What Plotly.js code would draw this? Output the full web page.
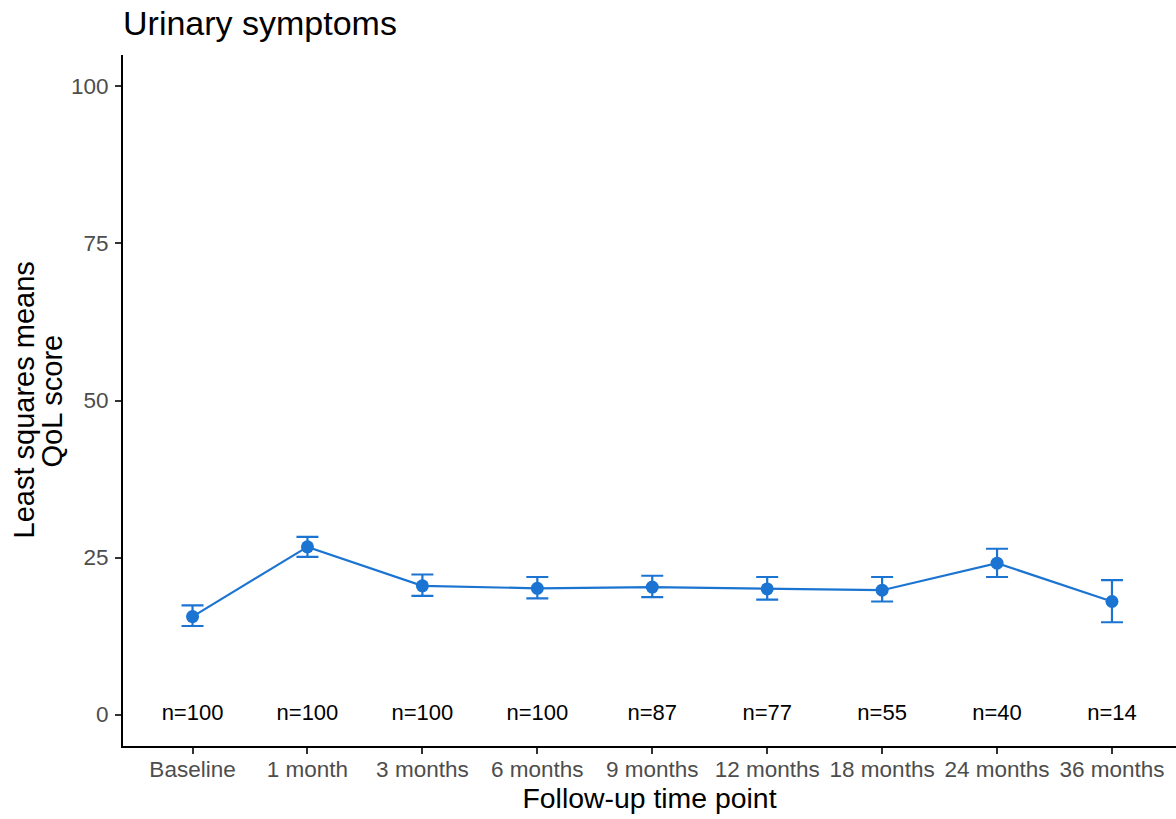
<!DOCTYPE html>
<html>
<head>
<meta charset="utf-8">
<script src="https://cdn.plot.ly/plotly-3.0.1.min.js"></script>
<style>html,body{margin:0;padding:0;background:#fff;}#chart{width:1176px;height:819px;}</style>
</head>
<body>
<div id="chart"></div>
<script>
const timepoints = ["Baseline","1 month","3 months","6 months","9 months","12 months","18 months","24 months","36 months"];
const lsMeans = [15.6, 26.7, 20.5, 20.1, 20.3, 20.0, 19.8, 24.1, 18.0];
const ciUpper = [17.4, 28.3, 22.3, 21.9, 22.1, 21.9, 21.9, 26.4, 21.4];
const ciLower = [14.1, 25.1, 18.9, 18.5, 18.7, 18.3, 18.0, 21.9, 14.7];
const nLabels = ["n=100","n=100","n=100","n=100","n=87","n=77","n=55","n=40","n=14"];
const nLabelY = [0,0,0,0,0,0,0,0,0];
const yTicks = [0,25,50,75,100];

const blue = "#1b74d2";
const idx = timepoints.map((_, i) => i);

const traces = [
  {
    x: idx, y: lsMeans, type: "scatter", mode: "lines+markers",
    line: {color: blue, width: 2.2},
    marker: {color: blue, size: 13},
    error_y: {
      type: "data", symmetric: false,
      array: ciUpper.map((u, i) => u - lsMeans[i]),
      arrayminus: lsMeans.map((m, i) => m - ciLower[i]),
      color: blue, thickness: 2.2, width: 11
    },
    hoverinfo: "skip", showlegend: false
  },
  {
    x: idx, y: nLabelY, type: "scatter", mode: "text",
    text: nLabels, textposition: "middle center",
    textfont: {family: "Liberation Sans, Arial, sans-serif", size: 22, color: "#000"},
    hoverinfo: "skip", showlegend: false
  }
];

const layout = {
  width: 1176, height: 819,
  paper_bgcolor: "#fff", plot_bgcolor: "#fff",
  margin: {l: 123, r: 0, t: 55, b: 73, pad: 0},
  font: {family: "Liberation Sans, Arial, sans-serif"},
  title: {
    text: "Urinary symptoms",
    font: {size: 34, color: "#000"},
    x: 123/1176, xref: "container", xanchor: "left",
    y: 1 - 23/819, yref: "container", yanchor: "middle"
  },
  xaxis: {
    range: [-0.605, 8.557],
    tickmode: "array", tickvals: idx, ticktext: timepoints,
    showgrid: false, zeroline: false,
    showline: true, linecolor: "#000", linewidth: 2,
    ticks: "outside", ticklen: 6, tickwidth: 2, tickcolor: "#333",
    tickfont: {size: 22.5, color: "#4d4d4d"},
    ticklabelstandoff: -4,
    title: {text: "Follow-up time point", font: {size: 28.4, color: "#000"}, standoff: 2}
  },
  yaxis: {
    range: [-5, 105],
    tickmode: "array", tickvals: yTicks, ticktext: yTicks.map(String),
    showgrid: false, zeroline: false,
    showline: true, linecolor: "#000", linewidth: 2,
    ticks: "outside", ticklen: 6, tickwidth: 2, tickcolor: "#333",
    tickfont: {size: 22.5, color: "#4d4d4d"},
    ticklabelstandoff: 2
  },
  annotations: [
    {text: "Least squares means", xref: "paper", yref: "paper", x: -123/1053 + 23/1053, y: 0.5,
     xanchor: "center", yanchor: "middle", textangle: -90, showarrow: false,
     font: {size: 29, color: "#000"}},
    {text: "QoL score", xref: "paper", yref: "paper", x: -123/1053 + 51/1053, y: 0.5,
     xanchor: "center", yanchor: "middle", textangle: -90, showarrow: false,
     font: {size: 29, color: "#000"}}
  ]
};

Plotly.newPlot("chart", traces, layout, {displayModeBar: false, staticPlot: true});
</script>
</body>
</html>
